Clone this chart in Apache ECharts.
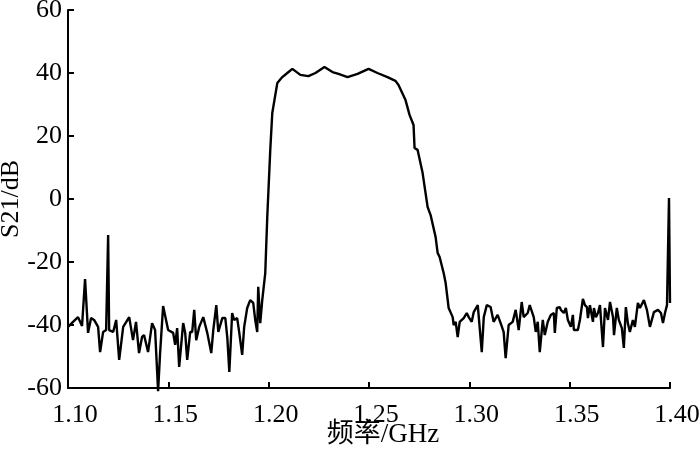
<!DOCTYPE html>
<html>
<head>
<meta charset="utf-8">
<script src="https://cdn.jsdelivr.net/npm/echarts@6/dist/echarts.min.js"></script>
<style>
  html, body { margin: 0; padding: 0; background: #fff; }
  #chart { width: 700px; height: 450px; }
</style>
</head>
<body>
<div id="chart"></div>
<script>
// 频率 (GHz)
var freqGHz = [
  1.1000, 1.1005, 1.1025, 1.1050, 1.1070, 1.1085, 1.1100, 1.1115, 1.1130, 1.1150,
  1.1160, 1.1175, 1.1190, 1.1200, 1.1205, 1.1225, 1.1240, 1.1255, 1.1275, 1.1305,
  1.1324, 1.1339, 1.1354, 1.1369, 1.1379, 1.1399, 1.1419, 1.1434, 1.1449, 1.1459,
  1.1474, 1.1499, 1.1524, 1.1534, 1.1544, 1.1554, 1.1574, 1.1584, 1.1594, 1.1609,
  1.1619, 1.1629, 1.1639, 1.1654, 1.1674, 1.1694, 1.1714, 1.1724, 1.1739, 1.1749,
  1.1769, 1.1784, 1.1794, 1.1804, 1.1818, 1.1828, 1.1843, 1.1853, 1.1868, 1.1878,
  1.1893, 1.1908, 1.1923, 1.1933, 1.1943, 1.1948, 1.1958, 1.1968, 1.1983, 1.1993,
  1.2008, 1.2018, 1.2043, 1.2068, 1.2093, 1.2118, 1.2158, 1.2198, 1.2233, 1.2278,
  1.2318, 1.2348, 1.2393, 1.2443, 1.2498, 1.2542, 1.2592, 1.2632, 1.2647, 1.2682,
  1.2702, 1.2722, 1.2727, 1.2742, 1.2767, 1.2792, 1.2807, 1.2832, 1.2842, 1.2852,
  1.2872, 1.2882, 1.2897, 1.2917, 1.2922, 1.2932, 1.2942, 1.2952, 1.2972, 1.2987,
  1.2997, 1.3012, 1.3022, 1.3042, 1.3062, 1.3072, 1.3087, 1.3106, 1.3121, 1.3141,
  1.3156, 1.3171, 1.3181, 1.3196, 1.3216, 1.3231, 1.3246, 1.3261, 1.3271, 1.3291,
  1.3301, 1.3321, 1.3331, 1.3341, 1.3351, 1.3366, 1.3376, 1.3391, 1.3406, 1.3421,
  1.3426, 1.3436, 1.3451, 1.3456, 1.3471, 1.3481, 1.3491, 1.3506, 1.3516, 1.3521,
  1.3541, 1.3551, 1.3566, 1.3576, 1.3586, 1.3591, 1.3601, 1.3616, 1.3621, 1.3631,
  1.3641, 1.3651, 1.3666, 1.3676, 1.3691, 1.3701, 1.3716, 1.3721, 1.3735, 1.3745,
  1.3760, 1.3770, 1.3780, 1.3790, 1.3800, 1.3815, 1.3825, 1.3840, 1.3850, 1.3870,
  1.3885, 1.3900, 1.3920, 1.3940, 1.3955, 1.3965, 1.3975, 1.3985, 1.3995, 1.4000
];
// S21 (dB)
var s21dB = [
  -40.6, -40.6, -39.0, -37.5, -40.3, -25.4, -42.5, -37.8, -38.4, -40.6,
  -48.6, -42.2, -41.6, -11.4, -41.6, -42.2, -38.4, -51.1, -40.6, -37.5,
  -44.8, -39.0, -48.9, -43.8, -43.2, -48.6, -39.4, -41.6, -61.0, -48.9,
  -34.0, -41.6, -42.5, -46.3, -41.0, -53.3, -39.4, -42.5, -51.1, -42.2,
  -42.2, -35.2, -44.8, -40.6, -37.5, -42.5, -48.9, -41.6, -33.7, -42.2,
  -37.8, -37.8, -44.1, -54.9, -36.2, -38.4, -37.8, -42.2, -49.5, -40.6,
  -34.6, -32.1, -33.0, -38.4, -42.2, -27.9, -39.4, -32.1, -23.5, -5.7,
  15.6, 27.3, 36.8, 38.7, 40.0, 41.3, 39.4, 39.0, 40.0, 41.9,
  40.3, 39.7, 38.7, 39.7, 41.3, 40.0, 38.7, 37.5, 36.2, 31.4,
  26.7, 23.5, 16.2, 15.6, 8.3, -2.5, -5.1, -12.1, -17.1, -18.4,
  -23.5, -26.7, -34.6, -37.5, -40.0, -39.0, -43.8, -39.0, -37.8, -36.2,
  -37.5, -39.0, -35.9, -33.7, -48.6, -37.5, -33.7, -34.3, -39.0, -36.8,
  -39.4, -42.2, -50.5, -40.0, -39.0, -35.2, -41.6, -32.7, -37.5, -36.2,
  -33.7, -37.5, -42.2, -39.0, -48.6, -38.4, -43.2, -39.0, -36.8, -36.2,
  -42.5, -34.6, -34.3, -35.2, -36.2, -34.6, -38.4, -40.6, -36.8, -41.6,
  -41.6, -38.4, -31.7, -33.7, -34.3, -37.8, -33.7, -39.0, -34.6, -37.5,
  -36.2, -33.7, -47.0, -34.6, -38.4, -32.7, -37.5, -43.2, -34.6, -38.4,
  -41.0, -47.3, -34.3, -39.4, -42.2, -38.4, -40.6, -33.0, -34.6, -32.1,
  -35.2, -40.6, -35.9, -35.2, -36.2, -39.4, -36.2, -33.7, 0.3, -33.0
];
var xTicks = { min: 1.10, max: 1.40, step: 0.05 };
var yTicks = { min: -60, max: 60, step: 20 };

var points = freqGHz.map(function (f, i) { return [f, s21dB[i]]; });

var serif = '"Liberation Serif", "Noto Sans CJK SC", serif';
var chart = echarts.init(document.getElementById('chart'));
var option = {
    animation: false,
    backgroundColor: '#fff',
    grid: { left: 68, right: 30, top: 10, bottom: 62, containLabel: false, outerBoundsMode: 'none' },
    xAxis: {
        type: 'value',
        min: xTicks.min,
        max: xTicks.max,
        interval: xTicks.step,
        name: '频率/GHz',
        nameLocation: 'middle',
        nameGap: 33,
        nameMoveOverlap: false,
        nameTextStyle: { color: '#000', fontSize: 27, fontFamily: serif, padding: [0, 0, 0, 28] },
        axisLine: { onZero: false, lineStyle: { color: '#000', width: 2 } },
        axisTick: { inside: true, length: 6, lineStyle: { color: '#000', width: 2 } },
        axisLabel: {
            color: '#000', fontSize: 26, fontFamily: serif, margin: 14,
            padding: [0, 0, 0, 14],
            formatter: function (v) { return v.toFixed(2); }
        },
        splitLine: { show: false }
    },
    yAxis: {
        type: 'value',
        min: yTicks.min,
        max: yTicks.max,
        interval: yTicks.step,
        name: 'S21/dB',
        nameLocation: 'middle',
        nameGap: 44,
        nameMoveOverlap: false,
        nameTextStyle: { color: '#000', fontSize: 26, fontFamily: serif },
        axisLine: { show: true, onZero: false, lineStyle: { color: '#000', width: 2 } },
        axisTick: { show: true, inside: true, length: 6, lineStyle: { color: '#000', width: 2 } },
        axisLabel: { color: '#000', fontSize: 26, fontFamily: serif, margin: 6 },
        splitLine: { show: false }
    },
    series: [{
        type: 'line',
        data: points,
        showSymbol: false,
        clip: false,
        lineStyle: { color: '#000', width: 2.4 }
    }]
};
chart.setOption(option);
</script>
</body>
</html>
